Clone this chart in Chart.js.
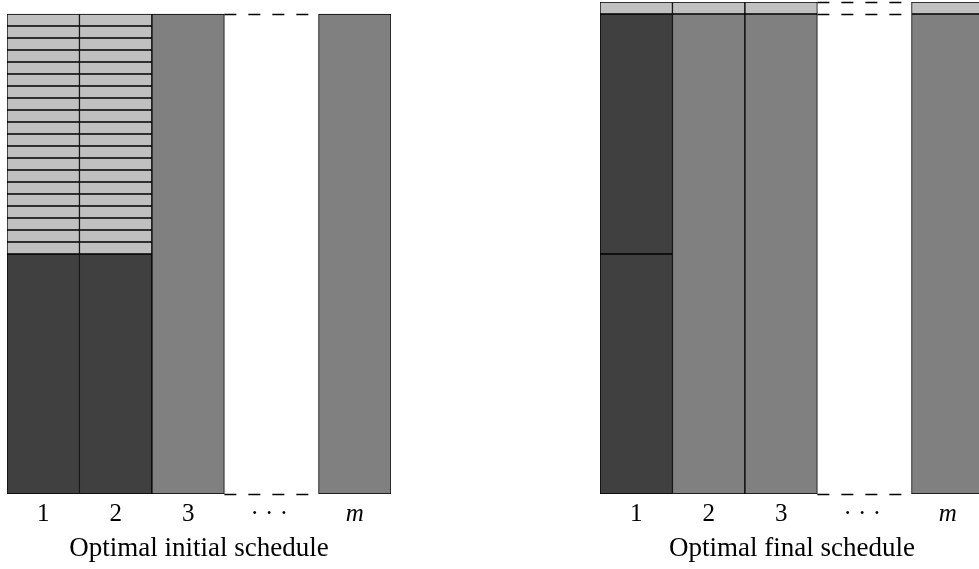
<!DOCTYPE html>
<html>
<head>
<meta charset="utf-8">
<script src="https://cdn.jsdelivr.net/npm/chart.js@4/dist/chart.umd.min.js"></script>
<style>
    html, body { margin: 0; padding: 0; background: #fff; overflow: hidden; }
    body { width: 979px; height: 569px; position: relative; }
    .panel { position: absolute; top: 0; }
    #initialPanel { left: 0; }
    #finalPanel { left: 593px; }
</style>
</head>
<body>
<div class="panel" id="initialPanel"><canvas id="initialChart" width="400" height="569"></canvas></div>
<div class="panel" id="finalPanel"><canvas id="finalChart" width="400" height="569"></canvas></div>
<script>
// Column labels along the bottom and where they sit on the machine axis
const columnLabels = ['1', '2', '3', '· · ·', 'm'];
const columnSlots = [1, 2, 3, 4.12, 5.3];
const machineSlots = [1, 2, 3, 5.3]; // machines that get a bar

// Optimal initial schedule
const initialBaseJobs = [20, 20, 40, 40];
const initialBaseShade = ['dark', 'dark', 'mid', 'mid'];
const initialSmallJobsM1 = [1, 1, 1, 1, 1, 1, 1, 1, 1, 1, 1, 1, 1, 1, 1, 1, 1, 1, 1, 1];
const initialSmallJobsM2 = [1, 1, 1, 1, 1, 1, 1, 1, 1, 1, 1, 1, 1, 1, 1, 1, 1, 1, 1, 1];
const initialGuides = [0, 40];

// Optimal final schedule
const finalBaseJobs = [20, 40, 40, 40];
const finalBaseShade = ['dark', 'mid', 'mid', 'mid'];
const finalSecondJobs = [20, null, null, null];
const finalSecondShade = ['dark', null, null, null];
const finalTopJobs = [1, 1, 1, 1];
const finalTopShade = ['light', 'light', 'light', 'light'];
const finalGuides = [0, 40, 41];

const shades = { dark: '#404040', mid: '#808080', light: '#c0c0c0' };
const serif = "'Liberation Serif', 'DejaVu Serif', serif";

Chart.defaults.color = '#000';

function layer(values, shadeNames) {
    const points = [];
    const colors = [];
    values.forEach((v, i) => {
        if (v === null) return;
        points.push({ x: machineSlots[i], y: v });
        colors.push(shades[shadeNames[i]]);
    });
    return {
        data: points,
        backgroundColor: colors,
        borderColor: '#000',
        borderWidth: 1,
        borderSkipped: false,
        categoryPercentage: 1,
        barPercentage: 1
    };
}

// dashed makespan guides between machine 3 and machine m
const guidePlugin = {
    id: 'guides',
    afterDatasetsDraw(chart, args, opts) {
        const { ctx, scales: { x, y } } = chart;
        const x0 = x.getPixelForValue(machineSlots[2] + 0.5);
        const x1 = x.getPixelForValue(machineSlots[3] - 0.5);
        ctx.save();
        ctx.strokeStyle = '#000';
        ctx.lineWidth = 1.5;
        ctx.setLineDash([12, 12]);
        opts.levels.forEach(level => {
            const py = Math.round(y.getPixelForValue(level)) + 0.5;
            ctx.beginPath();
            ctx.moveTo(x0, py);
            ctx.lineTo(x1, py);
            ctx.stroke();
        });
        ctx.restore();
    }
};

function makeChart(canvasId, datasets, title, levels) {
    return new Chart(document.getElementById(canvasId), {
        type: 'bar',
        data: { datasets: datasets },
        plugins: [guidePlugin],
        options: {
            responsive: false,
            animation: false,
            layout: { padding: { top: 2, left: 7, right: 9, bottom: 0 } },
            plugins: {
                legend: { display: false },
                tooltip: { enabled: false },
                guides: { levels: levels }
            },
            scales: {
                x: {
                    type: 'linear',
                    stacked: true,
                    offset: false,
                    min: 0.5,
                    max: 5.8,
                    bounds: 'data',
                    grid: { display: false, drawTicks: false, offset: false },
                    border: { display: false },
                    afterBuildTicks: scale => {
                        scale.ticks = columnSlots.map(v => ({ value: v }));
                    },
                    afterFit: scale => {
                        scale.height = 75;
                        scale.paddingLeft = 0;
                        scale.paddingRight = 0;
                    },
                    ticks: {
                        autoSkip: false,
                        maxRotation: 0,
                        padding: 5,
                        color: '#000',
                        font: ctx => ({
                            family: serif,
                            size: 25,
                            style: columnLabels[ctx.index] === 'm' ? 'italic' : 'normal'
                        }),
                        callback: (value, index) => columnLabels[index]
                    },
                    title: {
                        display: true,
                        text: title,
                        color: '#000',
                        font: { family: serif, size: 27 },
                        padding: { top: 0, bottom: 4 }
                    }
                },
                y: {
                    stacked: true,
                    display: false,
                    min: 0,
                    max: 41
                }
            }
        }
    });
}

const initialSets = [layer(initialBaseJobs, initialBaseShade)];
initialSmallJobsM1.forEach((v, k) => {
    initialSets.push(layer([v, initialSmallJobsM2[k], null, null], ['light', 'light', null, null]));
});

const finalSets = [
    layer(finalBaseJobs, finalBaseShade),
    layer(finalSecondJobs, finalSecondShade),
    layer(finalTopJobs, finalTopShade)
];

makeChart('initialChart', initialSets, 'Optimal initial schedule', initialGuides);
makeChart('finalChart', finalSets, 'Optimal final schedule', finalGuides);
</script>
</body>
</html>
